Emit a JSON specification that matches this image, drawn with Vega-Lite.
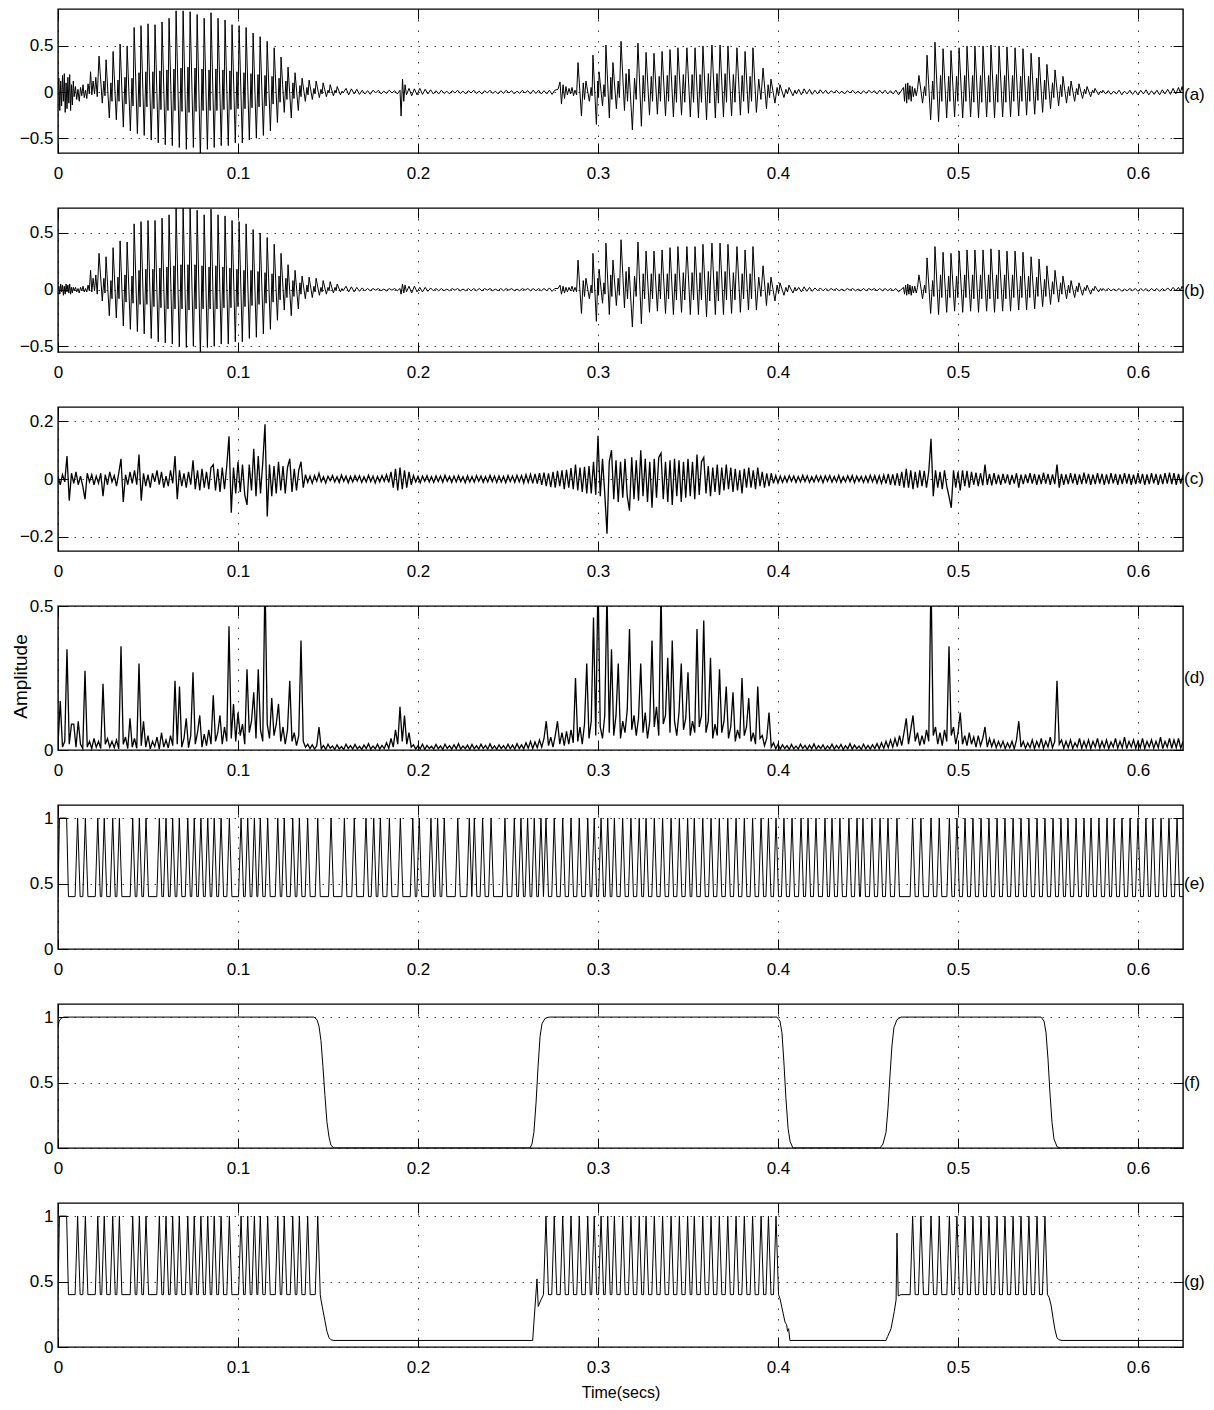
{
  "$schema": "https://vega.github.io/schema/vega-lite/v6.json",
  "padding": {"left": 10, "top": 7, "right": 0, "bottom": 0},
  "bounds": "flush",
  "spacing": 55,
  "config": {
    "view": {"stroke": "#000", "strokeWidth": 1.4},
    "axis": {
      "domain": false, "grid": true, "gridColor": "#000", "gridOpacity": 0.75, "gridWidth": 1,
      "ticks": true, "tickColor": "#000", "tickSize": -10, "tickWidth": 1,
      "labelFont": "Liberation Sans", "labelFontSize": 17, "labelColor": "#000",
      "titleFont": "Liberation Sans", "titleFontSize": 16, "titleFontWeight": "normal", "titleColor": "#000"
    },
    "axisX": {"gridDash": [1.5, 9], "labelPadding": 22, "labelFlush": false},
    "axisY": {"gridDash": [1.5, 6.5], "labelPadding": 15},
    "line": {"color": "#000", "strokeWidth": 1},
    "text": {"font": "Liberation Sans", "fontSize": 17, "color": "#000"}
  },
  "datasets": {
    "ab": [
      {"t":0,"a":0.02,"b":0},{"t":0.0005,"a":0.15,"b":0.03},{"t":0.001,"a":-0.2,"b":-0.04},{"t":0.0015,"a":0.12,"b":0.05},
      {"t":0.002,"a":-0.15,"b":-0.02},{"t":0.0025,"a":0.18,"b":0.04},{"t":0.003,"a":-0.1,"b":-0.05},{"t":0.0035,"a":0.2,"b":0.03},
      {"t":0.004,"a":-0.22,"b":-0.04},{"t":0.0045,"a":0.1,"b":0.05},{"t":0.005,"a":-0.18,"b":-0.02},{"t":0.0055,"a":0.16,"b":0.04},
      {"t":0.006,"a":-0.12,"b":-0.03},{"t":0.0065,"a":0.19,"b":0.05},{"t":0.007,"a":-0.2,"b":-0.04},{"t":0.0075,"a":0.08,"b":0.02},
      {"t":0.008,"a":-0.14,"b":-0.03},{"t":0.0085,"a":0.12,"b":0.02},{"t":0.009,"a":-0.05,"b":-0.01},
      {"t":0.0097,"a":0.06,"b":0.02},{"t":0.0104,"a":-0.08,"b":-0.02},{"t":0.0111,"a":0.03,"b":0.01},{"t":0.0118,"a":-0.1,"b":-0.03},
      {"t":0.0125,"a":0.05,"b":0.02},{"t":0.0132,"a":-0.04,"b":-0.01},{"t":0.0139,"a":0.08,"b":0.03},{"t":0.0146,"a":-0.06,"b":-0.02},
      {"t":0.0153,"a":0.02,"b":0.01},{"t":0.016,"a":-0.07,"b":-0.02},{"t":0.0167,"a":0.09,"b":0.04},{"t":0.0174,"a":-0.02,"b":-0.01},
      {"t":0.0181,"a":0.22,"b":0.17},{"t":0.0188,"a":-0.03,"b":-0.02},{"t":0.0195,"a":0.12,"b":0.1},{"t":0.0203,"a":-0.02,"b":-0.01},
      {"t":0.021,"a":0.16,"b":0.13},{"t":0.0218,"a":-0.05,"b":-0.04},
      {"t":0.0228,"a":0.39,"b":0.32},{"t":0.0246,"a":-0.12,"b":-0.1},{"t":0.0255,"a":0.12,"b":0.1},{"t":0.0261,"a":-0.04,"b":-0.03},
      {"t":0.0267,"a":0.35,"b":0.29},{"t":0.0285,"a":-0.28,"b":-0.23},{"t":0.0294,"a":0.1,"b":0.08},{"t":0.03,"a":-0.1,"b":-0.08},
      {"t":0.0306,"a":0.44,"b":0.37},{"t":0.0324,"a":-0.3,"b":-0.25},{"t":0.0333,"a":0.13,"b":0.11},{"t":0.0339,"a":-0.1,"b":-0.08},
      {"t":0.0345,"a":0.52,"b":0.43},{"t":0.0363,"a":-0.38,"b":-0.32},{"t":0.0372,"a":0.16,"b":0.13},{"t":0.0378,"a":-0.13,"b":-0.11},
      {"t":0.0384,"a":0.5,"b":0.42},{"t":0.0402,"a":-0.42,"b":-0.35},{"t":0.0411,"a":0.15,"b":0.12},{"t":0.0417,"a":-0.15,"b":-0.12},
      {"t":0.0423,"a":0.7,"b":0.58},{"t":0.0441,"a":-0.45,"b":-0.37},{"t":0.045,"a":0.21,"b":0.17},{"t":0.0456,"a":-0.16,"b":-0.13},
      {"t":0.0461,"a":0.72,"b":0.6},{"t":0.0479,"a":-0.47,"b":-0.39},{"t":0.0488,"a":0.22,"b":0.18},{"t":0.0494,"a":-0.16,"b":-0.13},
      {"t":0.05,"a":0.74,"b":0.61},{"t":0.0518,"a":-0.52,"b":-0.43},{"t":0.0527,"a":0.22,"b":0.18},{"t":0.0533,"a":-0.18,"b":-0.15},
      {"t":0.0539,"a":0.73,"b":0.61},{"t":0.0557,"a":-0.55,"b":-0.46},{"t":0.0566,"a":0.23,"b":0.19},{"t":0.0572,"a":-0.19,"b":-0.16},
      {"t":0.0578,"a":0.76,"b":0.63},{"t":0.0596,"a":-0.57,"b":-0.47},{"t":0.0605,"a":0.24,"b":0.2},{"t":0.0611,"a":-0.2,"b":-0.17},
      {"t":0.0617,"a":0.8,"b":0.66},{"t":0.0635,"a":-0.58,"b":-0.48},{"t":0.0644,"a":0.25,"b":0.21},{"t":0.065,"a":-0.2,"b":-0.17},
      {"t":0.0656,"a":0.88,"b":0.73},{"t":0.0674,"a":-0.6,"b":-0.5},{"t":0.0683,"a":0.26,"b":0.22},{"t":0.0689,"a":-0.21,"b":-0.17},
      {"t":0.0695,"a":0.88,"b":0.73},{"t":0.0713,"a":-0.62,"b":-0.51},{"t":0.0722,"a":0.27,"b":0.22},{"t":0.0728,"a":-0.22,"b":-0.18},
      {"t":0.0734,"a":0.87,"b":0.72},{"t":0.0752,"a":-0.6,"b":-0.5},{"t":0.0761,"a":0.26,"b":0.22},{"t":0.0767,"a":-0.21,"b":-0.17},
      {"t":0.0773,"a":0.84,"b":0.7},{"t":0.0791,"a":-0.72,"b":-0.58},{"t":0.08,"a":0.25,"b":0.21},{"t":0.0806,"a":-0.2,"b":-0.17},
      {"t":0.0812,"a":0.8,"b":0.66},{"t":0.083,"a":-0.62,"b":-0.51},{"t":0.0839,"a":0.24,"b":0.2},{"t":0.0845,"a":-0.2,"b":-0.17},
      {"t":0.085,"a":0.86,"b":0.71},{"t":0.0868,"a":-0.6,"b":-0.5},{"t":0.0877,"a":0.25,"b":0.21},{"t":0.0883,"a":-0.2,"b":-0.17},
      {"t":0.0889,"a":0.8,"b":0.66},{"t":0.0907,"a":-0.58,"b":-0.48},{"t":0.0916,"a":0.24,"b":0.2},{"t":0.0922,"a":-0.19,"b":-0.16},
      {"t":0.0928,"a":0.78,"b":0.65},{"t":0.0946,"a":-0.58,"b":-0.48},{"t":0.0955,"a":0.23,"b":0.19},{"t":0.0961,"a":-0.19,"b":-0.16},
      {"t":0.0967,"a":0.73,"b":0.61},{"t":0.0985,"a":-0.55,"b":-0.46},{"t":0.0994,"a":0.22,"b":0.18},{"t":0.1,"a":-0.18,"b":-0.15},
      {"t":0.1006,"a":0.72,"b":0.6},{"t":0.1024,"a":-0.55,"b":-0.46},{"t":0.1033,"a":0.21,"b":0.17},{"t":0.1039,"a":-0.18,"b":-0.15},
      {"t":0.1045,"a":0.7,"b":0.58},{"t":0.1063,"a":-0.52,"b":-0.43},{"t":0.1072,"a":0.2,"b":0.17},{"t":0.1078,"a":-0.17,"b":-0.14},
      {"t":0.1084,"a":0.64,"b":0.53},{"t":0.1102,"a":-0.5,"b":-0.42},{"t":0.1111,"a":0.19,"b":0.16},{"t":0.1117,"a":-0.16,"b":-0.13},
      {"t":0.1123,"a":0.6,"b":0.5},{"t":0.1141,"a":-0.47,"b":-0.39},{"t":0.115,"a":0.18,"b":0.15},{"t":0.1156,"a":-0.15,"b":-0.12},
      {"t":0.1162,"a":0.55,"b":0.46},{"t":0.118,"a":-0.42,"b":-0.35},{"t":0.1189,"a":0.17,"b":0.14},{"t":0.1195,"a":-0.13,"b":-0.11},
      {"t":0.1201,"a":0.48,"b":0.4},{"t":0.1219,"a":-0.33,"b":-0.27},{"t":0.1228,"a":0.15,"b":0.12},{"t":0.1234,"a":-0.11,"b":-0.09},
      {"t":0.1239,"a":0.38,"b":0.32},{"t":0.1257,"a":-0.22,"b":-0.18},{"t":0.1266,"a":0.12,"b":0.1},{"t":0.1272,"a":-0.08,"b":-0.07},
      {"t":0.1278,"a":0.27,"b":0.22},{"t":0.1296,"a":-0.28,"b":-0.23},{"t":0.1305,"a":0.1,"b":0.08},{"t":0.1311,"a":-0.07,"b":-0.06},
      {"t":0.1317,"a":0.21,"b":0.17},{"t":0.1335,"a":-0.2,"b":-0.17},{"t":0.1344,"a":0.07,"b":0.06},{"t":0.135,"a":-0.05,"b":-0.04},
      {"t":0.1356,"a":0.15,"b":0.12},{"t":0.1374,"a":-0.1,"b":-0.08},{"t":0.1383,"a":0.05,"b":0.04},{"t":0.1389,"a":-0.03,"b":-0.02},
      {"t":0.1395,"a":0.13,"b":0.11},{"t":0.1413,"a":-0.08,"b":-0.07},{"t":0.1422,"a":0.04,"b":0.03},{"t":0.1428,"a":-0.02,"b":-0.02},
      {"t":0.1434,"a":0.12,"b":0.1},{"t":0.1452,"a":-0.06,"b":-0.05},{"t":0.1461,"a":0.03,"b":0.02},{"t":0.1467,"a":-0.02,"b":-0.02},
      {"t":0.1473,"a":0.1,"b":0.08},{"t":0.1491,"a":-0.05,"b":-0.04},{"t":0.15,"a":0.02,"b":0.02},{"t":0.1506,"a":-0.01,"b":-0.01},
      {"t":0.1512,"a":0.08,"b":0.07},{"t":0.153,"a":-0.04,"b":-0.03},{"t":0.1539,"a":0.02,"b":0.02},{"t":0.1545,"a":-0.01,"b":-0.01},
      {"t":0.1551,"a":0.06,"b":0.05},{"t":0.1569,"a":-0.03,"b":-0.02},{"t":0.1578,"a":0.01,"b":0.01},{"t":0.1584,"a":-0.01,"b":-0.01},
      {"t":0.16,"a":0.04,"b":0.03},{"t":0.1615,"a":-0.03,"b":-0.02},{"t":0.163,"a":0.035,"b":0.025},{"t":0.1645,"a":-0.02,"b":-0.02},
      {"t":0.166,"a":0.03,"b":0.02},{"t":0.1675,"a":-0.025,"b":-0.015},{"t":0.169,"a":0.02,"b":0.015},{"t":0.1705,"a":-0.02,"b":-0.01},
      {"t":0.172,"a":0.015,"b":0.01},{"t":0.1735,"a":-0.025,"b":-0.01},{"t":0.175,"a":0.02,"b":0.01},{"t":0.1765,"a":-0.01,"b":-0.005},
      {"t":0.178,"a":0.02,"b":0.01},{"t":0.1795,"a":-0.02,"b":-0.01},{"t":0.181,"a":0.01,"b":0.005},{"t":0.1825,"a":-0.015,"b":-0.01},
      {"t":0.184,"a":0.02,"b":0.01},{"t":0.1855,"a":-0.01,"b":-0.005},{"t":0.187,"a":0.015,"b":0.01},{"t":0.1885,"a":-0.02,"b":-0.01},
      {"t":0.19,"a":0.02,"b":0.01},{"t":0.1906,"a":-0.26,"b":-0.04},{"t":0.1914,"a":0.14,"b":0.05},{"t":0.1921,"a":-0.1,"b":-0.03},
      {"t":0.1928,"a":0.08,"b":0.04},{"t":0.1936,"a":-0.03,"b":-0.02},{"t":0.195,"a":0.04,"b":0.03},{"t":0.1965,"a":-0.04,"b":-0.03},
      {"t":0.198,"a":0.035,"b":0.03},{"t":0.1995,"a":-0.03,"b":-0.02},{"t":0.201,"a":0.04,"b":0.02},{"t":0.2025,"a":-0.025,"b":-0.02},
      {"t":0.204,"a":0.03,"b":0.02},{"t":0.2055,"a":-0.02,"b":-0.015},{"t":0.207,"a":0.025,"b":0.015},{"t":0.2085,"a":-0.02,"b":-0.01},
      {"t":0.21,"a":0.015,"b":0.01},{"t":0.2115,"a":-0.02,"b":-0.01},{"t":0.213,"a":0.02,"b":0.01},{"t":0.2145,"a":-0.015,"b":-0.01},
      {"t":0.216,"a":0.01,"b":0.005},{"t":0.2175,"a":-0.02,"b":-0.01},{"t":0.219,"a":0.015,"b":0.01},{"t":0.2205,"a":-0.01,"b":-0.005},
      {"t":0.222,"a":0.02,"b":0.01},{"t":0.2235,"a":-0.015,"b":-0.01},{"t":0.225,"a":0.01,"b":0.005},{"t":0.2265,"a":-0.02,"b":-0.01},
      {"t":0.228,"a":0.015,"b":0.01},{"t":0.2295,"a":-0.01,"b":-0.01},{"t":0.231,"a":0.02,"b":0.01},{"t":0.2325,"a":-0.015,"b":-0.01},
      {"t":0.234,"a":0.01,"b":0.01},{"t":0.2355,"a":-0.02,"b":-0.01},{"t":0.237,"a":0.015,"b":0.01},{"t":0.2385,"a":-0.01,"b":-0.005},
      {"t":0.24,"a":0.02,"b":0.01},{"t":0.2415,"a":-0.015,"b":-0.01},{"t":0.243,"a":0.01,"b":0.005},{"t":0.2445,"a":-0.02,"b":-0.01},
      {"t":0.246,"a":0.015,"b":0.01},{"t":0.2475,"a":-0.015,"b":-0.01},{"t":0.249,"a":0.02,"b":0.01},{"t":0.2505,"a":-0.01,"b":-0.005},
      {"t":0.252,"a":0.015,"b":0.01},{"t":0.2535,"a":-0.02,"b":-0.01},{"t":0.255,"a":0.01,"b":0.005},{"t":0.2565,"a":-0.015,"b":-0.01},
      {"t":0.258,"a":0.02,"b":0.01},{"t":0.2595,"a":-0.01,"b":-0.005},{"t":0.261,"a":0.015,"b":0.01},{"t":0.2625,"a":-0.02,"b":-0.01},
      {"t":0.264,"a":0.02,"b":0.01},{"t":0.2655,"a":-0.015,"b":-0.01},{"t":0.267,"a":0.02,"b":0.01},{"t":0.2685,"a":-0.02,"b":-0.01},
      {"t":0.27,"a":0.015,"b":0.01},{"t":0.2715,"a":-0.02,"b":-0.01},{"t":0.273,"a":0.02,"b":0.015},{"t":0.2745,"a":-0.025,"b":-0.015},
      {"t":0.276,"a":0.02,"b":0.01},
      {"t":0.2778,"a":0.03,"b":0.01},{"t":0.2789,"a":0.11,"b":0.04},{"t":0.2797,"a":-0.13,"b":-0.04},{"t":0.2806,"a":0.08,"b":0.03},
      {"t":0.2814,"a":-0.07,"b":-0.03},{"t":0.2822,"a":0.06,"b":0.02},{"t":0.283,"a":-0.03,"b":-0.02},{"t":0.2839,"a":0.04,"b":0.02},
      {"t":0.2847,"a":-0.02,"b":-0.01},{"t":0.2856,"a":0.05,"b":0.03},{"t":0.2864,"a":-0.04,"b":-0.02},{"t":0.2872,"a":0.02,"b":0.02},
      {"t":0.2881,"a":-0.03,"b":-0.02},
      {"t":0.2889,"a":0.32,"b":0.26},{"t":0.2908,"a":-0.26,"b":-0.21},{"t":0.2918,"a":0.1,"b":0.08},{"t":0.2925,"a":-0.08,"b":-0.06},
      {"t":0.2933,"a":0.12,"b":0.1},{"t":0.2952,"a":-0.1,"b":-0.08},{"t":0.2962,"a":0.05,"b":0.04},{"t":0.2967,"a":-0.04,"b":-0.03},
      {"t":0.2972,"a":0.4,"b":0.32},{"t":0.2991,"a":-0.35,"b":-0.28},{"t":0.2999,"a":0.12,"b":0.1},{"t":0.3003,"a":-0.06,"b":-0.05},
      {"t":0.3006,"a":0.22,"b":0.18},{"t":0.3025,"a":-0.15,"b":-0.12},{"t":0.3033,"a":0.08,"b":0.06},{"t":0.3039,"a":-0.05,"b":-0.04},
      {"t":0.3044,"a":0.51,"b":0.41},{"t":0.3063,"a":-0.28,"b":-0.22},{"t":0.3071,"a":0.16,"b":0.13},{"t":0.3077,"a":-0.08,"b":-0.06},
      {"t":0.3083,"a":0.32,"b":0.26},{"t":0.3102,"a":-0.18,"b":-0.14},{"t":0.3112,"a":0.12,"b":0.1},{"t":0.3119,"a":-0.06,"b":-0.05},
      {"t":0.3128,"a":0.55,"b":0.44},{"t":0.3147,"a":-0.2,"b":-0.16},{"t":0.3156,"a":0.2,"b":0.16},{"t":0.3164,"a":-0.1,"b":-0.08},
      {"t":0.3172,"a":0.25,"b":0.2},{"t":0.3191,"a":-0.41,"b":-0.33},{"t":0.3203,"a":0.15,"b":0.12},{"t":0.3212,"a":-0.08,"b":-0.06},
      {"t":0.3222,"a":0.53,"b":0.42},{"t":0.3241,"a":-0.37,"b":-0.3},{"t":0.3251,"a":0.18,"b":0.14},{"t":0.3259,"a":-0.1,"b":-0.08},
      {"t":0.3267,"a":0.43,"b":0.34},{"t":0.3286,"a":-0.25,"b":-0.2},{"t":0.3296,"a":0.17,"b":0.14},{"t":0.3303,"a":-0.1,"b":-0.08},
      {"t":0.3311,"a":0.42,"b":0.34},{"t":0.333,"a":-0.24,"b":-0.19},{"t":0.334,"a":0.17,"b":0.14},{"t":0.3347,"a":-0.1,"b":-0.08},
      {"t":0.3356,"a":0.44,"b":0.35},{"t":0.3375,"a":-0.26,"b":-0.21},{"t":0.3385,"a":0.18,"b":0.14},{"t":0.3392,"a":-0.1,"b":-0.08},
      {"t":0.34,"a":0.46,"b":0.37},{"t":0.3419,"a":-0.27,"b":-0.22},{"t":0.3429,"a":0.18,"b":0.14},{"t":0.3436,"a":-0.11,"b":-0.09},
      {"t":0.3444,"a":0.48,"b":0.38},{"t":0.3464,"a":-0.25,"b":-0.2},{"t":0.3474,"a":0.19,"b":0.15},{"t":0.3482,"a":-0.11,"b":-0.09},
      {"t":0.3494,"a":0.48,"b":0.38},{"t":0.3513,"a":-0.27,"b":-0.22},{"t":0.3523,"a":0.19,"b":0.15},{"t":0.3531,"a":-0.11,"b":-0.09},
      {"t":0.3539,"a":0.48,"b":0.38},{"t":0.3558,"a":-0.28,"b":-0.22},{"t":0.3567,"a":0.19,"b":0.15},{"t":0.3575,"a":-0.11,"b":-0.09},
      {"t":0.3583,"a":0.5,"b":0.4},{"t":0.3603,"a":-0.3,"b":-0.24},{"t":0.3613,"a":0.2,"b":0.16},{"t":0.3621,"a":-0.12,"b":-0.1},
      {"t":0.3633,"a":0.51,"b":0.41},{"t":0.3652,"a":-0.28,"b":-0.22},{"t":0.3661,"a":0.2,"b":0.16},{"t":0.3669,"a":-0.12,"b":-0.1},
      {"t":0.3678,"a":0.51,"b":0.41},{"t":0.3697,"a":-0.27,"b":-0.22},{"t":0.3706,"a":0.2,"b":0.16},{"t":0.3714,"a":-0.11,"b":-0.09},
      {"t":0.3722,"a":0.5,"b":0.4},{"t":0.3742,"a":-0.26,"b":-0.21},{"t":0.3752,"a":0.19,"b":0.15},{"t":0.3761,"a":-0.11,"b":-0.09},
      {"t":0.3772,"a":0.48,"b":0.38},{"t":0.3791,"a":-0.25,"b":-0.2},{"t":0.3801,"a":0.18,"b":0.14},{"t":0.3809,"a":-0.1,"b":-0.08},
      {"t":0.3817,"a":0.44,"b":0.35},{"t":0.3836,"a":-0.23,"b":-0.18},{"t":0.3845,"a":0.17,"b":0.14},{"t":0.3853,"a":-0.1,"b":-0.08},
      {"t":0.3861,"a":0.48,"b":0.38},{"t":0.388,"a":-0.22,"b":-0.18},{"t":0.3893,"a":0.14,"b":0.11},{"t":0.3905,"a":-0.08,"b":-0.06},
      {"t":0.3917,"a":0.26,"b":0.21},{"t":0.3936,"a":-0.18,"b":-0.14},{"t":0.3945,"a":0.08,"b":0.06},{"t":0.3953,"a":-0.06,"b":-0.05},
      {"t":0.3961,"a":0.14,"b":0.11},{"t":0.3983,"a":-0.12,"b":-0.1},{"t":0.3995,"a":0.05,"b":0.04},{"t":0.4003,"a":-0.04,"b":-0.03},
      {"t":0.4011,"a":0.08,"b":0.06},{"t":0.4033,"a":-0.06,"b":-0.05},{"t":0.4044,"a":0.03,"b":0.02},{"t":0.4053,"a":-0.02,"b":-0.02},
      {"t":0.4061,"a":0.05,"b":0.04},{"t":0.4083,"a":-0.04,"b":-0.03},{"t":0.4094,"a":0.02,"b":0.02},{"t":0.4103,"a":-0.02,"b":-0.01},
      {"t":0.4115,"a":0.03,"b":0.02},{"t":0.413,"a":-0.03,"b":-0.02},{"t":0.4145,"a":0.035,"b":0.025},{"t":0.416,"a":-0.02,"b":-0.015},
      {"t":0.4175,"a":0.03,"b":0.02},{"t":0.419,"a":-0.025,"b":-0.015},{"t":0.4205,"a":0.02,"b":0.015},{"t":0.422,"a":-0.02,"b":-0.01},
      {"t":0.4235,"a":0.025,"b":0.015},{"t":0.425,"a":-0.015,"b":-0.01},{"t":0.4265,"a":0.02,"b":0.01},{"t":0.428,"a":-0.02,"b":-0.01},
      {"t":0.4295,"a":0.015,"b":0.01},{"t":0.431,"a":-0.01,"b":-0.005},{"t":0.4325,"a":0.02,"b":0.01},{"t":0.434,"a":-0.015,"b":-0.01},
      {"t":0.4355,"a":0.01,"b":0.005},{"t":0.437,"a":-0.02,"b":-0.01},{"t":0.4385,"a":0.015,"b":0.01},{"t":0.44,"a":-0.01,"b":-0.005},
      {"t":0.4415,"a":0.02,"b":0.01},{"t":0.443,"a":-0.015,"b":-0.01},{"t":0.4445,"a":0.01,"b":0.005},{"t":0.446,"a":-0.02,"b":-0.01},
      {"t":0.4475,"a":0.015,"b":0.01},{"t":0.449,"a":-0.015,"b":-0.01},{"t":0.4505,"a":0.02,"b":0.01},{"t":0.452,"a":-0.01,"b":-0.005},
      {"t":0.4535,"a":0.015,"b":0.01},{"t":0.455,"a":-0.02,"b":-0.01},{"t":0.4565,"a":0.02,"b":0.01},{"t":0.458,"a":-0.015,"b":-0.01},
      {"t":0.4595,"a":0.02,"b":0.01},{"t":0.461,"a":-0.02,"b":-0.01},{"t":0.4625,"a":0.015,"b":0.01},{"t":0.464,"a":-0.02,"b":-0.01},
      {"t":0.4655,"a":0.02,"b":0.01},{"t":0.467,"a":-0.03,"b":-0.02},
      {"t":0.4697,"a":0.05,"b":0.02},{"t":0.4703,"a":-0.1,"b":-0.04},{"t":0.4709,"a":0.09,"b":0.04},{"t":0.4715,"a":-0.12,"b":-0.05},
      {"t":0.4721,"a":0.1,"b":0.05},{"t":0.4727,"a":-0.08,"b":-0.04},{"t":0.4733,"a":0.07,"b":0.04},{"t":0.474,"a":-0.1,"b":-0.05},
      {"t":0.4746,"a":0.06,"b":0.03},{"t":0.4752,"a":-0.05,"b":-0.03},{"t":0.476,"a":0.04,"b":0.03},{"t":0.4768,"a":-0.04,"b":-0.03},
      {"t":0.4775,"a":0.03,"b":0.02},
      {"t":0.4783,"a":0.18,"b":0.13},{"t":0.4803,"a":-0.12,"b":-0.08},{"t":0.4814,"a":0.06,"b":0.04},{"t":0.4821,"a":-0.04,"b":-0.03},
      {"t":0.4828,"a":0.4,"b":0.28},{"t":0.4848,"a":-0.3,"b":-0.21},{"t":0.4859,"a":0.12,"b":0.08},{"t":0.4866,"a":-0.08,"b":-0.06},
      {"t":0.4872,"a":0.54,"b":0.38},{"t":0.4892,"a":-0.32,"b":-0.22},{"t":0.4903,"a":0.18,"b":0.13},{"t":0.491,"a":-0.1,"b":-0.07},
      {"t":0.4917,"a":0.47,"b":0.33},{"t":0.4937,"a":-0.28,"b":-0.2},{"t":0.4948,"a":0.17,"b":0.12},{"t":0.4955,"a":-0.1,"b":-0.07},
      {"t":0.4961,"a":0.45,"b":0.32},{"t":0.4981,"a":-0.27,"b":-0.19},{"t":0.4992,"a":0.17,"b":0.12},{"t":0.4999,"a":-0.1,"b":-0.07},
      {"t":0.5006,"a":0.48,"b":0.34},{"t":0.5026,"a":-0.28,"b":-0.2},{"t":0.5037,"a":0.18,"b":0.13},{"t":0.5044,"a":-0.1,"b":-0.07},
      {"t":0.505,"a":0.5,"b":0.35},{"t":0.507,"a":-0.27,"b":-0.19},{"t":0.5081,"a":0.18,"b":0.13},{"t":0.5088,"a":-0.11,"b":-0.08},
      {"t":0.5094,"a":0.5,"b":0.35},{"t":0.5114,"a":-0.28,"b":-0.2},{"t":0.5125,"a":0.18,"b":0.13},{"t":0.5132,"a":-0.11,"b":-0.08},
      {"t":0.5139,"a":0.5,"b":0.35},{"t":0.5159,"a":-0.27,"b":-0.19},{"t":0.517,"a":0.18,"b":0.13},{"t":0.5177,"a":-0.11,"b":-0.08},
      {"t":0.5183,"a":0.51,"b":0.36},{"t":0.5203,"a":-0.28,"b":-0.2},{"t":0.5214,"a":0.19,"b":0.13},{"t":0.5221,"a":-0.11,"b":-0.08},
      {"t":0.5228,"a":0.5,"b":0.35},{"t":0.5248,"a":-0.27,"b":-0.19},{"t":0.5259,"a":0.18,"b":0.13},{"t":0.5266,"a":-0.11,"b":-0.08},
      {"t":0.5272,"a":0.49,"b":0.34},{"t":0.5292,"a":-0.27,"b":-0.19},{"t":0.5303,"a":0.18,"b":0.13},{"t":0.531,"a":-0.1,"b":-0.07},
      {"t":0.5317,"a":0.48,"b":0.34},{"t":0.5337,"a":-0.26,"b":-0.18},{"t":0.5348,"a":0.17,"b":0.12},{"t":0.5355,"a":-0.1,"b":-0.07},
      {"t":0.5361,"a":0.47,"b":0.33},{"t":0.5381,"a":-0.25,"b":-0.18},{"t":0.5392,"a":0.17,"b":0.12},{"t":0.5399,"a":-0.1,"b":-0.07},
      {"t":0.5406,"a":0.42,"b":0.29},{"t":0.5426,"a":-0.24,"b":-0.17},{"t":0.5437,"a":0.15,"b":0.11},{"t":0.5444,"a":-0.09,"b":-0.06},
      {"t":0.545,"a":0.38,"b":0.27},{"t":0.547,"a":-0.22,"b":-0.15},{"t":0.5481,"a":0.13,"b":0.09},{"t":0.5488,"a":-0.08,"b":-0.06},
      {"t":0.5494,"a":0.3,"b":0.21},{"t":0.5514,"a":-0.18,"b":-0.13},{"t":0.5525,"a":0.1,"b":0.07},{"t":0.5532,"a":-0.06,"b":-0.04},
      {"t":0.5539,"a":0.24,"b":0.17},{"t":0.5559,"a":-0.15,"b":-0.11},{"t":0.557,"a":0.08,"b":0.06},{"t":0.5577,"a":-0.05,"b":-0.04},
      {"t":0.5583,"a":0.17,"b":0.12},{"t":0.5603,"a":-0.12,"b":-0.08},{"t":0.5614,"a":0.06,"b":0.04},{"t":0.5621,"a":-0.04,"b":-0.03},
      {"t":0.5628,"a":0.12,"b":0.08},{"t":0.5648,"a":-0.1,"b":-0.07},{"t":0.5659,"a":0.04,"b":0.03},{"t":0.5666,"a":-0.03,"b":-0.02},
      {"t":0.5672,"a":0.09,"b":0.06},{"t":0.5692,"a":-0.07,"b":-0.05},{"t":0.5703,"a":0.03,"b":0.02},{"t":0.571,"a":-0.02,"b":-0.01},
      {"t":0.5717,"a":0.06,"b":0.04},{"t":0.5737,"a":-0.05,"b":-0.04},{"t":0.5748,"a":0.02,"b":0.01},{"t":0.5755,"a":-0.01,"b":-0.01},
      {"t":0.5761,"a":0.04,"b":0.03},{"t":0.5781,"a":-0.03,"b":-0.02},{"t":0.5792,"a":0.01,"b":0.01},{"t":0.5799,"a":-0.01,"b":-0.01},
      {"t":0.5805,"a":0.02,"b":0.01},{"t":0.582,"a":-0.02,"b":-0.01},{"t":0.5835,"a":0.015,"b":0.01},{"t":0.585,"a":-0.025,"b":-0.01},
      {"t":0.5865,"a":0.01,"b":0.005},{"t":0.588,"a":-0.02,"b":-0.01},{"t":0.5895,"a":0.02,"b":0.01},{"t":0.591,"a":-0.03,"b":-0.015},
      {"t":0.5925,"a":0.01,"b":0.005},{"t":0.594,"a":-0.02,"b":-0.01},{"t":0.5955,"a":0.02,"b":0.01},{"t":0.597,"a":-0.025,"b":-0.01},
      {"t":0.5985,"a":0.015,"b":0.01},{"t":0.6,"a":-0.03,"b":-0.015},{"t":0.6015,"a":0.02,"b":0.01},{"t":0.603,"a":-0.02,"b":-0.01},
      {"t":0.6045,"a":0.025,"b":0.01},{"t":0.606,"a":-0.03,"b":-0.015},{"t":0.6075,"a":0.015,"b":0.01},{"t":0.609,"a":-0.025,"b":-0.01},
      {"t":0.6105,"a":0.02,"b":0.01},{"t":0.612,"a":-0.03,"b":-0.015},{"t":0.6135,"a":0.025,"b":0.01},{"t":0.615,"a":-0.02,"b":-0.01},
      {"t":0.6165,"a":0.03,"b":0.015},{"t":0.618,"a":-0.025,"b":-0.01},{"t":0.6195,"a":0.04,"b":0.02},{"t":0.621,"a":-0.02,"b":-0.01},
      {"t":0.6225,"a":0.05,"b":0.02},{"t":0.6235,"a":-0.01,"b":-0.01},{"t":0.6245,"a":0.06,"b":0.03},{"t":0.625,"a":0.02,"b":0.01}
    ],
    "cd": [
      {"t":0,"c":0.01,"d":0.02},{"t":0.00125,"c":-0.02,"d":0.17},{"t":0.0025,"c":0.015,"d":0.01},{"t":0.00375,"c":-0.01,"d":0.03},
      {"t":0.005,"c":0.08,"d":0.35},{"t":0.00625,"c":-0.075,"d":0.02},{"t":0.0075,"c":0.02,"d":0.09},{"t":0.00875,"c":-0.015,"d":0.09},
      {"t":0.01,"c":0.025,"d":0.01},{"t":0.01125,"c":-0.02,"d":0.1},{"t":0.0125,"c":0.01,"d":0.02},{"t":0.01375,"c":-0.025,"d":0.005},
      {"t":0.015,"c":-0.07,"d":0.275},{"t":0.01625,"c":0.02,"d":0.01},{"t":0.0175,"c":-0.01,"d":0.03},{"t":0.01875,"c":0.015,"d":0.005},
      {"t":0.02,"c":-0.02,"d":0.04},{"t":0.02125,"c":0.01,"d":0.01},{"t":0.0225,"c":-0.015,"d":0.03},{"t":0.02375,"c":0.02,"d":0.005},
      {"t":0.025,"c":-0.06,"d":0.23},{"t":0.02625,"c":0.015,"d":0.02},{"t":0.0275,"c":-0.02,"d":0.04},{"t":0.02875,"c":0.025,"d":0.01},
      {"t":0.03,"c":-0.01,"d":0.03},
      {"t":0.03125,"c":0.012,"d":0.008},{"t":0.0325,"c":-0.025,"d":0.035},{"t":0.03375,"c":0.02,"d":0.004},{"t":0.035,"c":0.07,"d":0.36},
      {"t":0.03625,"c":-0.08,"d":0.02},{"t":0.0375,"c":0.015,"d":0.045},{"t":0.03875,"c":-0.02,"d":0.005},{"t":0.04,"c":0.025,"d":0.11},
      {"t":0.04125,"c":-0.015,"d":0.01},{"t":0.0425,"c":0.03,"d":0.04},{"t":0.04375,"c":-0.02,"d":0.006},{"t":0.045,"c":0.085,"d":0.3},
      {"t":0.04625,"c":-0.075,"d":0.015},{"t":0.0475,"c":0.02,"d":0.1},{"t":0.04875,"c":-0.025,"d":0.01},{"t":0.05,"c":0.015,"d":0.05},
      {"t":0.05125,"c":-0.03,"d":0.004},{"t":0.0525,"c":0.02,"d":0.03},{"t":0.05375,"c":-0.01,"d":0.012},{"t":0.055,"c":0.03,"d":0.045},
      {"t":0.05625,"c":-0.02,"d":0.003},{"t":0.0575,"c":0.025,"d":0.06},{"t":0.05875,"c":-0.03,"d":0.01},{"t":0.06,"c":0.01,"d":0.035},
      {"t":0.06125,"c":-0.025,"d":0.007},{"t":0.0625,"c":0.03,"d":0.05},{"t":0.06375,"c":-0.015,"d":0.015},{"t":0.065,"c":0.08,"d":0.24},
      {"t":0.06625,"c":-0.07,"d":0.02},{"t":0.0675,"c":0.03,"d":0.22},{"t":0.06875,"c":-0.025,"d":0.01},{"t":0.07,"c":0.02,"d":0.04},
      {"t":0.07125,"c":-0.03,"d":0.11},{"t":0.0725,"c":0.025,"d":0.008},{"t":0.07375,"c":-0.02,"d":0.05},{"t":0.075,"c":0.065,"d":0.27},
      {"t":0.07625,"c":-0.035,"d":0.02},{"t":0.0775,"c":0.03,"d":0.06},{"t":0.07875,"c":-0.04,"d":0.12},{"t":0.08,"c":0.035,"d":0.01},
      {"t":0.08125,"c":-0.03,"d":0.055},{"t":0.0825,"c":0.025,"d":0.015},{"t":0.08375,"c":-0.035,"d":0.07},{"t":0.085,"c":0.04,"d":0.02},
      {"t":0.08625,"c":0.05,"d":0.19},{"t":0.0875,"c":-0.04,"d":0.03},{"t":0.08875,"c":0.035,"d":0.06},{"t":0.09,"c":-0.045,"d":0.12},
      {"t":0.09125,"c":0.04,"d":0.02},{"t":0.0925,"c":-0.035,"d":0.08},{"t":0.09375,"c":0.045,"d":0.03},{"t":0.095,"c":0.148,"d":0.43},
      {"t":0.09625,"c":-0.117,"d":0.04},
      {"t":0.0975,"c":0.04,"d":0.16},{"t":0.09875,"c":-0.05,"d":0.03},{"t":0.1,"c":0.06,"d":0.13},{"t":0.10125,"c":-0.045,"d":0.05},
      {"t":0.1025,"c":0.05,"d":0.09},{"t":0.10375,"c":-0.055,"d":0.02},{"t":0.105,"c":-0.09,"d":0.28},{"t":0.10625,"c":0.05,"d":0.06},
      {"t":0.1075,"c":-0.04,"d":0.1},{"t":0.10875,"c":0.105,"d":0.2},{"t":0.11,"c":-0.06,"d":0.04},{"t":0.11125,"c":0.08,"d":0.28},
      {"t":0.1125,"c":-0.05,"d":0.07},{"t":0.11375,"c":0.055,"d":0.03},{"t":0.115,"c":0.19,"d":0.6},{"t":0.11625,"c":-0.13,"d":0.09},
      {"t":0.1175,"c":0.05,"d":0.04},{"t":0.11875,"c":-0.06,"d":0.18},{"t":0.12,"c":0.045,"d":0.05},{"t":0.12125,"c":-0.05,"d":0.09},
      {"t":0.1225,"c":0.06,"d":0.16},{"t":0.12375,"c":-0.04,"d":0.03},{"t":0.125,"c":0.045,"d":0.08},{"t":0.12625,"c":-0.05,"d":0.02},
      {"t":0.1275,"c":0.04,"d":0.07},{"t":0.12875,"c":0.07,"d":0.24},{"t":0.13,"c":-0.045,"d":0.03},{"t":0.13125,"c":0.035,"d":0.06},
      {"t":0.1325,"c":-0.04,"d":0.015},{"t":0.13375,"c":0.03,"d":0.05},{"t":0.135,"c":0.06,"d":0.38},
      {"t":0.13625,"c":-0.03,"d":0.03},{"t":0.1375,"c":0.015,"d":0.01},{"t":0.13875,"c":-0.012,"d":0.02},{"t":0.14,"c":0.01,"d":0.005},
      {"t":0.14125,"c":-0.015,"d":0.018},{"t":0.1425,"c":0.012,"d":0.003},{"t":0.14375,"c":-0.008,"d":0.015},{"t":0.145,"c":0.02,"d":0.08},
      {"t":0.14625,"c":-0.01,"d":0.004},{"t":0.1475,"c":0.008,"d":0.016},{"t":0.14875,"c":-0.014,"d":0.002},{"t":0.15,"c":0.01,"d":0.02},
      {"t":0.15125,"c":-0.006,"d":0.006},{"t":0.1525,"c":0.012,"d":0.014},{"t":0.15375,"c":-0.01,"d":0.002},{"t":0.155,"c":0.008,"d":0.018},
      {"t":0.15625,"c":-0.012,"d":0.004},{"t":0.1575,"c":0.014,"d":0.012},{"t":0.15875,"c":-0.008,"d":0.002},{"t":0.16,"c":0.01,"d":0.02},
      {"t":0.16125,"c":-0.013,"d":0.005},{"t":0.1625,"c":0.009,"d":0.015},{"t":0.16375,"c":-0.01,"d":0.003},{"t":0.165,"c":0.012,"d":0.019},
      {"t":0.16625,"c":-0.007,"d":0.004},{"t":0.1675,"c":0.011,"d":0.013},{"t":0.16875,"c":-0.012,"d":0.002},{"t":0.17,"c":0.008,"d":0.017},
      {"t":0.17125,"c":-0.01,"d":0.005},{"t":0.1725,"c":0.013,"d":0.022},{"t":0.17375,"c":-0.009,"d":0.003},{"t":0.175,"c":0.01,"d":0.014},
      {"t":0.17625,"c":-0.014,"d":0.004},{"t":0.1775,"c":0.009,"d":0.02},{"t":0.17875,"c":-0.01,"d":0.003},{"t":0.18,"c":0.012,"d":0.016},
      {"t":0.18125,"c":-0.008,"d":0.005},{"t":0.1825,"c":0.015,"d":0.025},{"t":0.18375,"c":-0.012,"d":0.006},
      {"t":0.185,"c":0.025,"d":0.04},{"t":0.18625,"c":-0.03,"d":0.01},{"t":0.1875,"c":0.035,"d":0.07},{"t":0.18875,"c":-0.04,"d":0.02},
      {"t":0.19,"c":0.04,"d":0.15},{"t":0.19125,"c":-0.035,"d":0.03},{"t":0.1925,"c":0.03,"d":0.12},{"t":0.19375,"c":-0.03,"d":0.02},
      {"t":0.195,"c":0.025,"d":0.06},{"t":0.19625,"c":-0.02,"d":0.01},
      {"t":0.1975,"c":0.012,"d":0.018},{"t":0.19875,"c":-0.01,"d":0.003},{"t":0.2,"c":0.009,"d":0.015},{"t":0.20125,"c":-0.013,"d":0.004},
      {"t":0.2025,"c":0.01,"d":0.02},{"t":0.20375,"c":-0.008,"d":0.002},{"t":0.205,"c":0.012,"d":0.016},{"t":0.20625,"c":-0.01,"d":0.005},
      {"t":0.2075,"c":0.008,"d":0.013},{"t":0.20875,"c":-0.012,"d":0.003},{"t":0.21,"c":0.011,"d":0.019},{"t":0.21125,"c":-0.009,"d":0.004},
      {"t":0.2125,"c":0.01,"d":0.014},{"t":0.21375,"c":-0.011,"d":0.002},{"t":0.215,"c":0.013,"d":0.02},{"t":0.21625,"c":-0.008,"d":0.005},
      {"t":0.2175,"c":0.009,"d":0.015},{"t":0.21875,"c":-0.012,"d":0.003},{"t":0.22,"c":0.01,"d":0.018},{"t":0.22125,"c":-0.01,"d":0.004},
      {"t":0.2225,"c":0.012,"d":0.022},{"t":0.22375,"c":-0.009,"d":0.003},{"t":0.225,"c":0.008,"d":0.014},{"t":0.22625,"c":-0.013,"d":0.005},
      {"t":0.2275,"c":0.011,"d":0.017},{"t":0.22875,"c":-0.01,"d":0.002},{"t":0.23,"c":0.009,"d":0.019},{"t":0.23125,"c":-0.011,"d":0.004},
      {"t":0.2325,"c":0.012,"d":0.015},{"t":0.23375,"c":-0.008,"d":0.003},{"t":0.235,"c":0.01,"d":0.02},{"t":0.23625,"c":-0.012,"d":0.005},
      {"t":0.2375,"c":0.009,"d":0.016},{"t":0.23875,"c":-0.01,"d":0.003},{"t":0.24,"c":0.013,"d":0.021},{"t":0.24125,"c":-0.009,"d":0.004},
      {"t":0.2425,"c":0.01,"d":0.014},{"t":0.24375,"c":-0.012,"d":0.002},{"t":0.245,"c":0.011,"d":0.018},{"t":0.24625,"c":-0.01,"d":0.005},
      {"t":0.2475,"c":0.009,"d":0.015},{"t":0.24875,"c":-0.013,"d":0.003},{"t":0.25,"c":0.012,"d":0.02},{"t":0.25125,"c":-0.009,"d":0.004},
      {"t":0.2525,"c":0.01,"d":0.017},{"t":0.25375,"c":-0.011,"d":0.003},{"t":0.255,"c":0.013,"d":0.022},{"t":0.25625,"c":-0.01,"d":0.005},
      {"t":0.2575,"c":0.012,"d":0.018},{"t":0.25875,"c":-0.014,"d":0.004},{"t":0.26,"c":0.015,"d":0.025},{"t":0.26125,"c":-0.012,"d":0.006},
      {"t":0.2625,"c":0.016,"d":0.03},{"t":0.26375,"c":-0.015,"d":0.005},{"t":0.265,"c":0.018,"d":0.028},{"t":0.26625,"c":-0.016,"d":0.008},
      {"t":0.2675,"c":0.02,"d":0.035},
      {"t":0.26875,"c":-0.02,"d":0.01},{"t":0.27,"c":0.022,"d":0.04},{"t":0.27125,"c":-0.025,"d":0.1},{"t":0.2725,"c":0.02,"d":0.015},
      {"t":0.27375,"c":-0.028,"d":0.045},{"t":0.275,"c":0.025,"d":0.01},{"t":0.27625,"c":-0.03,"d":0.05},{"t":0.2775,"c":0.028,"d":0.1},
      {"t":0.27875,"c":-0.025,"d":0.02},{"t":0.28,"c":0.03,"d":0.06},{"t":0.28125,"c":-0.035,"d":0.015},{"t":0.2825,"c":0.032,"d":0.065},
      {"t":0.28375,"c":-0.03,"d":0.02},{"t":0.285,"c":0.038,"d":0.07},{"t":0.28625,"c":-0.035,"d":0.025},{"t":0.2875,"c":0.05,"d":0.25},
      {"t":0.28875,"c":-0.04,"d":0.03},{"t":0.29,"c":0.04,"d":0.08},{"t":0.29125,"c":-0.045,"d":0.02},{"t":0.2925,"c":0.042,"d":0.09},
      {"t":0.29375,"c":-0.05,"d":0.3},{"t":0.295,"c":0.045,"d":0.04},{"t":0.29625,"c":-0.05,"d":0.1},{"t":0.2975,"c":0.06,"d":0.46},
      {"t":0.29875,"c":-0.055,"d":0.05},{"t":0.3,"c":0.15,"d":0.6},
      {"t":0.30125,"c":-0.06,"d":0.08},{"t":0.3025,"c":0.07,"d":0.04},{"t":0.30375,"c":-0.05,"d":0.12},{"t":0.305,"c":-0.19,"d":0.55},
      {"t":0.30625,"c":0.06,"d":0.06},{"t":0.3075,"c":0.1,"d":0.35},{"t":0.30875,"c":-0.07,"d":0.05},{"t":0.31,"c":0.065,"d":0.12},
      {"t":0.31125,"c":-0.08,"d":0.3},{"t":0.3125,"c":0.06,"d":0.04},{"t":0.31375,"c":-0.065,"d":0.1},{"t":0.315,"c":0.07,"d":0.06},
      {"t":0.31625,"c":-0.06,"d":0.14},{"t":0.3175,"c":-0.11,"d":0.42},{"t":0.31875,"c":0.075,"d":0.07},{"t":0.32,"c":-0.07,"d":0.12},
      {"t":0.32125,"c":0.065,"d":0.05},{"t":0.3225,"c":-0.075,"d":0.11},{"t":0.32375,"c":0.1,"d":0.3},{"t":0.325,"c":-0.06,"d":0.06},
      {"t":0.32625,"c":0.07,"d":0.13},{"t":0.3275,"c":-0.08,"d":0.04},{"t":0.32875,"c":0.06,"d":0.1},{"t":0.33,"c":-0.1,"d":0.38},
      {"t":0.33125,"c":0.07,"d":0.08},{"t":0.3325,"c":-0.065,"d":0.15},{"t":0.33375,"c":0.075,"d":0.05},{"t":0.335,"c":0.09,"d":0.55},
      {"t":0.33625,"c":-0.07,"d":0.09},{"t":0.3375,"c":0.06,"d":0.12},{"t":0.33875,"c":-0.08,"d":0.32},{"t":0.34,"c":0.065,"d":0.06},
      {"t":0.34125,"c":-0.09,"d":0.38},{"t":0.3425,"c":0.07,"d":0.1},{"t":0.34375,"c":-0.06,"d":0.05},{"t":0.345,"c":0.065,"d":0.13},
      {"t":0.34625,"c":-0.08,"d":0.3},{"t":0.3475,"c":0.06,"d":0.07},{"t":0.34875,"c":-0.065,"d":0.11},{"t":0.35,"c":0.07,"d":0.27},
      {"t":0.35125,"c":-0.06,"d":0.05},{"t":0.3525,"c":0.06,"d":0.1},{"t":0.35375,"c":-0.07,"d":0.06},{"t":0.355,"c":0.085,"d":0.42},
      {"t":0.35625,"c":-0.055,"d":0.08},{"t":0.3575,"c":0.06,"d":0.12},
      {"t":0.35875,"c":0.075,"d":0.45},{"t":0.36,"c":-0.05,"d":0.06},{"t":0.36125,"c":0.045,"d":0.1},{"t":0.3625,"c":-0.06,"d":0.32},
      {"t":0.36375,"c":0.04,"d":0.04},{"t":0.365,"c":-0.045,"d":0.09},{"t":0.36625,"c":0.05,"d":0.05},{"t":0.3675,"c":-0.055,"d":0.28},
      {"t":0.36875,"c":0.04,"d":0.06},{"t":0.37,"c":-0.04,"d":0.1},{"t":0.37125,"c":0.05,"d":0.22},{"t":0.3725,"c":-0.035,"d":0.04},
      {"t":0.37375,"c":0.04,"d":0.08},{"t":0.375,"c":-0.045,"d":0.2},{"t":0.37625,"c":0.035,"d":0.03},{"t":0.3775,"c":-0.04,"d":0.07},
      {"t":0.37875,"c":0.03,"d":0.04},{"t":0.38,"c":-0.05,"d":0.25},{"t":0.38125,"c":0.035,"d":0.05},{"t":0.3825,"c":-0.03,"d":0.08},
      {"t":0.38375,"c":0.04,"d":0.18},{"t":0.385,"c":-0.03,"d":0.03},{"t":0.38625,"c":0.03,"d":0.06},{"t":0.3875,"c":-0.035,"d":0.02},
      {"t":0.38875,"c":0.04,"d":0.22},{"t":0.39,"c":-0.025,"d":0.04},{"t":0.39125,"c":0.025,"d":0.05},{"t":0.3925,"c":-0.03,"d":0.015},
      {"t":0.39375,"c":0.02,"d":0.04},{"t":0.395,"c":-0.025,"d":0.13},{"t":0.39625,"c":0.02,"d":0.01},
      {"t":0.3975,"c":-0.015,"d":0.025},{"t":0.39875,"c":0.012,"d":0.004},{"t":0.4,"c":-0.014,"d":0.02},{"t":0.40125,"c":0.01,"d":0.003},
      {"t":0.4025,"c":-0.012,"d":0.018},{"t":0.40375,"c":0.009,"d":0.005},{"t":0.405,"c":-0.011,"d":0.015},{"t":0.40625,"c":0.012,"d":0.002},
      {"t":0.4075,"c":-0.008,"d":0.019},{"t":0.40875,"c":0.01,"d":0.004},{"t":0.41,"c":-0.012,"d":0.014},{"t":0.41125,"c":0.009,"d":0.003},
      {"t":0.4125,"c":-0.01,"d":0.02},{"t":0.41375,"c":0.013,"d":0.005},{"t":0.415,"c":-0.009,"d":0.016},{"t":0.41625,"c":0.011,"d":0.002},
      {"t":0.4175,"c":-0.012,"d":0.017},{"t":0.41875,"c":0.008,"d":0.004},{"t":0.42,"c":-0.01,"d":0.021},{"t":0.42125,"c":0.012,"d":0.003},
      {"t":0.4225,"c":-0.009,"d":0.015},{"t":0.42375,"c":0.01,"d":0.005},{"t":0.425,"c":-0.013,"d":0.018},{"t":0.42625,"c":0.011,"d":0.002},
      {"t":0.4275,"c":-0.008,"d":0.014},{"t":0.42875,"c":0.012,"d":0.004},{"t":0.43,"c":-0.011,"d":0.02},{"t":0.43125,"c":0.009,"d":0.003},
      {"t":0.4325,"c":-0.01,"d":0.016},{"t":0.43375,"c":0.013,"d":0.005},{"t":0.435,"c":-0.012,"d":0.019},{"t":0.43625,"c":0.008,"d":0.002},
      {"t":0.4375,"c":-0.01,"d":0.015},{"t":0.43875,"c":0.011,"d":0.004},{"t":0.44,"c":-0.009,"d":0.022},{"t":0.44125,"c":0.012,"d":0.003},
      {"t":0.4425,"c":-0.013,"d":0.017},{"t":0.44375,"c":0.01,"d":0.005},{"t":0.445,"c":-0.008,"d":0.014},{"t":0.44625,"c":0.009,"d":0.002},
      {"t":0.4475,"c":-0.012,"d":0.02},{"t":0.44875,"c":0.01,"d":0.004},{"t":0.45,"c":-0.011,"d":0.016},{"t":0.45125,"c":0.013,"d":0.003},
      {"t":0.4525,"c":-0.01,"d":0.018},{"t":0.45375,"c":0.012,"d":0.005},{"t":0.455,"c":-0.014,"d":0.022},{"t":0.45625,"c":0.011,"d":0.004},
      {"t":0.4575,"c":-0.015,"d":0.025},{"t":0.45875,"c":0.014,"d":0.006},{"t":0.46,"c":-0.016,"d":0.03},{"t":0.46125,"c":0.018,"d":0.008},
      {"t":0.4625,"c":-0.02,"d":0.035},{"t":0.46375,"c":0.016,"d":0.01},{"t":0.465,"c":-0.022,"d":0.04},{"t":0.46625,"c":0.02,"d":0.012},
      {"t":0.4675,"c":-0.024,"d":0.05},
      {"t":0.46875,"c":0.025,"d":0.015},{"t":0.47,"c":-0.03,"d":0.06},{"t":0.47125,"c":0.035,"d":0.11},{"t":0.4725,"c":-0.03,"d":0.02},
      {"t":0.47375,"c":0.03,"d":0.07},{"t":0.475,"c":-0.035,"d":0.12},{"t":0.47625,"c":0.025,"d":0.03},{"t":0.4775,"c":-0.03,"d":0.06},
      {"t":0.47875,"c":0.03,"d":0.015},{"t":0.48,"c":-0.025,"d":0.05},{"t":0.48125,"c":0.028,"d":0.02},{"t":0.4825,"c":-0.03,"d":0.07},
      {"t":0.48375,"c":0.025,"d":0.03},{"t":0.485,"c":0.14,"d":0.6},{"t":0.48625,"c":-0.06,"d":0.05},{"t":0.4875,"c":0.03,"d":0.08},
      {"t":0.48875,"c":-0.03,"d":0.02},{"t":0.49,"c":0.025,"d":0.06},{"t":0.49125,"c":-0.035,"d":0.015},{"t":0.4925,"c":0.03,"d":0.07},
      {"t":0.49375,"c":-0.025,"d":0.03},{"t":0.495,"c":-0.06,"d":0.36},{"t":0.49625,"c":-0.1,"d":0.05},{"t":0.4975,"c":0.03,"d":0.08},
      {"t":0.49875,"c":-0.03,"d":0.02},{"t":0.5,"c":0.025,"d":0.06},{"t":0.50125,"c":-0.04,"d":0.13},{"t":0.5025,"c":0.03,"d":0.02},
      {"t":0.50375,"c":-0.025,"d":0.05},{"t":0.505,"c":0.028,"d":0.015},{"t":0.50625,"c":-0.03,"d":0.06},{"t":0.5075,"c":0.025,"d":0.02},
      {"t":0.50875,"c":-0.02,"d":0.045},{"t":0.51,"c":0.022,"d":0.01},{"t":0.51125,"c":-0.025,"d":0.05},{"t":0.5125,"c":0.02,"d":0.015},
      {"t":0.51375,"c":-0.022,"d":0.04},{"t":0.515,"c":0.05,"d":0.08},{"t":0.51625,"c":-0.02,"d":0.01},{"t":0.5175,"c":0.018,"d":0.04},
      {"t":0.51875,"c":-0.022,"d":0.012},{"t":0.52,"c":0.02,"d":0.035},{"t":0.52125,"c":-0.018,"d":0.008},{"t":0.5225,"c":0.015,"d":0.03},
      {"t":0.52375,"c":-0.02,"d":0.01},
      {"t":0.525,"c":0.018,"d":0.03},{"t":0.52625,"c":-0.015,"d":0.005},{"t":0.5275,"c":0.016,"d":0.025},{"t":0.52875,"c":-0.02,"d":0.008},
      {"t":0.53,"c":0.014,"d":0.03},{"t":0.53125,"c":-0.016,"d":0.004},{"t":0.5325,"c":0.02,"d":0.035},{"t":0.53375,"c":-0.03,"d":0.1},
      {"t":0.535,"c":0.015,"d":0.01},{"t":0.53625,"c":-0.018,"d":0.03},{"t":0.5375,"c":0.016,"d":0.006},{"t":0.53875,"c":-0.014,"d":0.025},
      {"t":0.54,"c":0.02,"d":0.008},{"t":0.54125,"c":-0.016,"d":0.035},{"t":0.5425,"c":0.018,"d":0.005},{"t":0.54375,"c":-0.02,"d":0.03},
      {"t":0.545,"c":0.015,"d":0.01},{"t":0.54625,"c":-0.018,"d":0.04},{"t":0.5475,"c":0.022,"d":0.006},{"t":0.54875,"c":-0.016,"d":0.03},
      {"t":0.55,"c":0.018,"d":0.01},{"t":0.55125,"c":-0.02,"d":0.045},{"t":0.5525,"c":0.016,"d":0.008},{"t":0.55375,"c":-0.018,"d":0.03},
      {"t":0.555,"c":0.05,"d":0.24},{"t":0.55625,"c":-0.03,"d":0.02},{"t":0.5575,"c":0.018,"d":0.035},{"t":0.55875,"c":-0.02,"d":0.006},
      {"t":0.56,"c":0.016,"d":0.03},{"t":0.56125,"c":-0.018,"d":0.008},{"t":0.5625,"c":0.02,"d":0.035},{"t":0.56375,"c":-0.015,"d":0.005},
      {"t":0.565,"c":0.018,"d":0.025},{"t":0.56625,"c":-0.02,"d":0.01},{"t":0.5675,"c":0.016,"d":0.04},{"t":0.56875,"c":-0.018,"d":0.006},
      {"t":0.57,"c":0.022,"d":0.03},{"t":0.57125,"c":-0.016,"d":0.008},{"t":0.5725,"c":0.018,"d":0.035},{"t":0.57375,"c":-0.02,"d":0.005},
      {"t":0.575,"c":0.015,"d":0.03},{"t":0.57625,"c":-0.018,"d":0.01},{"t":0.5775,"c":0.02,"d":0.04},{"t":0.57875,"c":-0.016,"d":0.006},
      {"t":0.58,"c":0.018,"d":0.03},{"t":0.58125,"c":-0.02,"d":0.008},{"t":0.5825,"c":0.016,"d":0.035},{"t":0.58375,"c":-0.018,"d":0.005},
      {"t":0.585,"c":0.02,"d":0.028},{"t":0.58625,"c":-0.015,"d":0.01},{"t":0.5875,"c":0.018,"d":0.04},{"t":0.58875,"c":-0.02,"d":0.006},
      {"t":0.59,"c":0.016,"d":0.03},{"t":0.59125,"c":-0.018,"d":0.008},{"t":0.5925,"c":0.02,"d":0.045},{"t":0.59375,"c":-0.016,"d":0.005},
      {"t":0.595,"c":0.018,"d":0.03},{"t":0.59625,"c":-0.02,"d":0.01},{"t":0.5975,"c":0.015,"d":0.035},{"t":0.59875,"c":-0.018,"d":0.006},
      {"t":0.6,"c":0.02,"d":0.03},{"t":0.60125,"c":-0.016,"d":0.008},{"t":0.6025,"c":0.018,"d":0.04},{"t":0.60375,"c":-0.02,"d":0.005},
      {"t":0.605,"c":0.016,"d":0.03},{"t":0.60625,"c":-0.018,"d":0.01},{"t":0.6075,"c":0.02,"d":0.035},{"t":0.60875,"c":-0.015,"d":0.006},
      {"t":0.61,"c":0.018,"d":0.03},{"t":0.61125,"c":-0.02,"d":0.008},{"t":0.6125,"c":0.016,"d":0.045},{"t":0.61375,"c":-0.018,"d":0.005},
      {"t":0.615,"c":0.02,"d":0.03},{"t":0.61625,"c":-0.016,"d":0.01},{"t":0.6175,"c":0.022,"d":0.04},{"t":0.61875,"c":-0.018,"d":0.006},
      {"t":0.62,"c":0.02,"d":0.035},{"t":0.62125,"c":-0.02,"d":0.008},{"t":0.6225,"c":0.018,"d":0.04},{"t":0.62375,"c":-0.016,"d":0.006},
      {"t":0.625,"c":0.015,"d":0.03}
    ],
    "f": [
      {"t":0,"f":0.92},{"t":0.0006,"f":0.97},{"t":0.0017,"f":0.99},{"t":0.0033,"f":1},
      {"t":0.1422,"f":1},{"t":0.1439,"f":0.98},{"t":0.145,"f":0.93},{"t":0.1461,"f":0.82},{"t":0.1472,"f":0.62},{"t":0.1483,"f":0.4},
      {"t":0.1494,"f":0.2},{"t":0.1506,"f":0.08},{"t":0.1517,"f":0.02},{"t":0.1533,"f":0},
      {"t":0.2622,"f":0},{"t":0.2633,"f":0.03},{"t":0.2644,"f":0.12},{"t":0.2656,"f":0.35},{"t":0.2667,"f":0.62},{"t":0.2678,"f":0.85},
      {"t":0.2689,"f":0.95},{"t":0.2706,"f":0.99},{"t":0.2728,"f":1},
      {"t":0.3994,"f":1},{"t":0.4011,"f":0.97},{"t":0.4022,"f":0.88},{"t":0.4033,"f":0.65},{"t":0.4044,"f":0.38},{"t":0.4056,"f":0.15},
      {"t":0.4067,"f":0.05},{"t":0.4083,"f":0},
      {"t":0.4567,"f":0},{"t":0.4583,"f":0.03},{"t":0.46,"f":0.12},{"t":0.4611,"f":0.3},{"t":0.4622,"f":0.55},{"t":0.4633,"f":0.78},
      {"t":0.4644,"f":0.92},{"t":0.4661,"f":0.98},{"t":0.4683,"f":1},
      {"t":0.5461,"f":1},{"t":0.5478,"f":0.97},{"t":0.5489,"f":0.88},{"t":0.55,"f":0.68},{"t":0.5511,"f":0.42},{"t":0.5522,"f":0.2},
      {"t":0.5533,"f":0.07},{"t":0.555,"f":0.01},{"t":0.5567,"f":0},{"t":0.625,"f":0}
    ],
    "eg": [
      {"t":0,"e":0.4,"g":0.4},{"t":0.0008,"e":1,"g":1},{"t":0.0048,"e":1,"g":1},{"t":0.0058,"e":0.4,"g":0.4},
      {"t":0.0095,"e":0.4,"g":0.4},{"t":0.0109,"e":1,"g":1},{"t":0.0123,"e":0.4,"g":0.4},
      {"t":0.0138,"e":0.4,"g":0.4},{"t":0.0152,"e":1,"g":1},{"t":0.0166,"e":0.4,"g":0.4},
      {"t":0.0207,"e":0.4,"g":0.4},{"t":0.0221,"e":1,"g":1},{"t":0.0235,"e":0.4,"g":0.4},
      {"t":0.0243,"e":0.4,"g":0.4},{"t":0.0257,"e":1,"g":1},{"t":0.0271,"e":0.4,"g":0.4},
      {"t":0.029,"e":0.4,"g":0.4},{"t":0.0304,"e":1,"g":1},{"t":0.0318,"e":0.4,"g":0.4},
      {"t":0.0327,"e":0.4,"g":0.4},{"t":0.0341,"e":1,"g":1},{"t":0.0355,"e":0.4,"g":0.4},
      {"t":0.0401,"e":0.4,"g":0.4},{"t":0.0415,"e":1,"g":1},{"t":0.0429,"e":0.4,"g":0.4},
      {"t":0.0438,"e":0.4,"g":0.4},{"t":0.0452,"e":1,"g":1},{"t":0.0466,"e":0.4,"g":0.4},
      {"t":0.0475,"e":0.4,"g":0.4},{"t":0.0489,"e":1,"g":1},{"t":0.0503,"e":0.4,"g":0.4},
      {"t":0.0549,"e":0.4,"g":0.4},{"t":0.0563,"e":1,"g":1},{"t":0.0577,"e":0.4,"g":0.4},
      {"t":0.0586,"e":0.4,"g":0.4},{"t":0.06,"e":1,"g":1},{"t":0.0614,"e":0.4,"g":0.4},
      {"t":0.0623,"e":0.4,"g":0.4},{"t":0.0637,"e":1,"g":1},{"t":0.0651,"e":0.4,"g":0.4},
      {"t":0.066,"e":0.4,"g":0.4},{"t":0.0674,"e":1,"g":1},{"t":0.0688,"e":0.4,"g":0.4},
      {"t":0.0707,"e":0.4,"g":0.4},{"t":0.0721,"e":1,"g":1},{"t":0.0735,"e":0.4,"g":0.4},
      {"t":0.0743,"e":0.4,"g":0.4},{"t":0.0757,"e":1,"g":1},{"t":0.0771,"e":0.4,"g":0.4},
      {"t":0.078,"e":0.4,"g":0.4},{"t":0.0794,"e":1,"g":1},{"t":0.0808,"e":0.4,"g":0.4},
      {"t":0.0818,"e":0.4,"g":0.4},{"t":0.0832,"e":1,"g":1},{"t":0.0846,"e":0.4,"g":0.4},
      {"t":0.0854,"e":0.4,"g":0.4},{"t":0.0868,"e":1,"g":1},{"t":0.0882,"e":0.4,"g":0.4},
      {"t":0.0892,"e":0.4,"g":0.4},{"t":0.0906,"e":1,"g":1},{"t":0.092,"e":0.4,"g":0.4},
      {"t":0.0938,"e":0.4,"g":0.4},{"t":0.0952,"e":1,"g":1},{"t":0.0966,"e":0.4,"g":0.4},
      {"t":0.1003,"e":0.4,"g":0.4},{"t":0.1017,"e":1,"g":1},{"t":0.1031,"e":0.4,"g":0.4},
      {"t":0.104,"e":0.4,"g":0.4},{"t":0.1054,"e":1,"g":1},{"t":0.1068,"e":0.4,"g":0.4},
      {"t":0.1077,"e":0.4,"g":0.4},{"t":0.1091,"e":1,"g":1},{"t":0.1105,"e":0.4,"g":0.4},
      {"t":0.111,"e":0.4,"g":0.4},{"t":0.1124,"e":1,"g":1},{"t":0.1138,"e":0.4,"g":0.4},
      {"t":0.1151,"e":0.4,"g":0.4},{"t":0.1165,"e":1,"g":1},{"t":0.1179,"e":0.4,"g":0.4},
      {"t":0.1207,"e":0.4,"g":0.4},{"t":0.1221,"e":1,"g":1},{"t":0.1235,"e":0.4,"g":0.4},
      {"t":0.1243,"e":0.4,"g":0.4},{"t":0.1257,"e":1,"g":1},{"t":0.1271,"e":0.4,"g":0.4},
      {"t":0.129,"e":0.4,"g":0.4},{"t":0.1304,"e":1,"g":1},{"t":0.1318,"e":0.4,"g":0.4},
      {"t":0.1327,"e":0.4,"g":0.4},{"t":0.1341,"e":1,"g":1},{"t":0.1355,"e":0.4,"g":0.4},
      {"t":0.1373,"e":0.4,"g":0.4},{"t":0.1387,"e":1,"g":1},{"t":0.1401,"e":0.4,"g":0.4},
      {"t":0.1429,"e":0.4,"g":0.4},{"t":0.1443,"e":1,"g":1},{"t":0.1457,"e":0.4,"g":0.4},
      {"t":0.1461,"g":0.36},{"t":0.1472,"g":0.28},{"t":0.1483,"g":0.2},{"t":0.1494,"g":0.12},{"t":0.1506,"g":0.07},
      {"t":0.1517,"g":0.055},{"t":0.1533,"g":0.05},
      {"t":0.1503,"e":0.4},{"t":0.1517,"e":1},{"t":0.1531,"e":0.4},
      {"t":0.1577,"e":0.4},{"t":0.1591,"e":1},{"t":0.1605,"e":0.4},
      {"t":0.1632,"e":0.4},{"t":0.1646,"e":1},{"t":0.166,"e":0.4},
      {"t":0.1697,"e":0.4},{"t":0.1711,"e":1},{"t":0.1725,"e":0.4},
      {"t":0.174,"e":0.4},{"t":0.1754,"e":1},{"t":0.1768,"e":0.4},
      {"t":0.1777,"e":0.4},{"t":0.1791,"e":1},{"t":0.1805,"e":0.4},
      {"t":0.1827,"e":0.4},{"t":0.1841,"e":1},{"t":0.1855,"e":0.4},
      {"t":0.1888,"e":0.4},{"t":0.1902,"e":1},{"t":0.1916,"e":0.4},
      {"t":0.1957,"e":0.4},{"t":0.1971,"e":1},{"t":0.1985,"e":0.4},
      {"t":0.1993,"e":0.4},{"t":0.2007,"e":1},{"t":0.2021,"e":0.4},
      {"t":0.2058,"e":0.4},{"t":0.2072,"e":1},{"t":0.2086,"e":0.4},
      {"t":0.2095,"e":0.4},{"t":0.2109,"e":1},{"t":0.2123,"e":0.4},
      {"t":0.2132,"e":0.4},{"t":0.2146,"e":1},{"t":0.216,"e":0.4},
      {"t":0.2207,"e":0.4},{"t":0.2221,"e":1},{"t":0.2235,"e":0.4},
      {"t":0.2271,"e":0.4},{"t":0.2285,"e":1},{"t":0.2299,"e":0.4},
      {"t":0.2313,"e":1},{"t":0.2327,"e":0.4},
      {"t":0.2345,"e":0.4},{"t":0.2359,"e":1},{"t":0.2373,"e":0.4},
      {"t":0.2392,"e":0.4},{"t":0.2406,"e":1},{"t":0.242,"e":0.4},
      {"t":0.2469,"e":0.4},{"t":0.2483,"e":1},{"t":0.2497,"e":0.4},
      {"t":0.2521,"e":0.4},{"t":0.2535,"e":1},{"t":0.2549,"e":0.4},
      {"t":0.2558,"e":0.4},{"t":0.2572,"e":1},{"t":0.2586,"e":0.4},
      {"t":0.2595,"e":0.4},{"t":0.2609,"e":1},{"t":0.2623,"e":0.4},
      {"t":0.2632,"e":0.4},{"t":0.2646,"e":1},{"t":0.266,"e":0.4},
      {"t":0.2669,"e":0.4},{"t":0.2683,"e":1},
      {"t":0.2637,"g":0.05},{"t":0.2661,"g":0.52},{"t":0.2668,"g":0.31},{"t":0.2683,"g":0.36},{"t":0.2694,"g":0.39},
      {"t":0.2697,"e":0.4,"g":0.4},{"t":0.2711,"e":1,"g":1},{"t":0.2725,"e":0.4,"g":0.4},
      {"t":0.2743,"e":0.4,"g":0.4},{"t":0.2757,"e":1,"g":1},{"t":0.2771,"e":0.4,"g":0.4},
      {"t":0.279,"e":0.4,"g":0.4},{"t":0.2804,"e":1,"g":1},{"t":0.2818,"e":0.4,"g":0.4},
      {"t":0.2836,"e":0.4,"g":0.4},{"t":0.285,"e":1,"g":1},{"t":0.2864,"e":0.4,"g":0.4},
      {"t":0.2882,"e":0.4,"g":0.4},{"t":0.2896,"e":1,"g":1},{"t":0.291,"e":0.4,"g":0.4},
      {"t":0.2929,"e":0.4,"g":0.4},{"t":0.2943,"e":1,"g":1},{"t":0.2957,"e":0.4,"g":0.4},
      {"t":0.2965,"e":0.4,"g":0.4},{"t":0.2979,"e":1,"g":1},{"t":0.2993,"e":0.4,"g":0.4},
      {"t":0.3003,"e":0.4,"g":0.4},{"t":0.3017,"e":1,"g":1},{"t":0.3031,"e":0.4,"g":0.4},
      {"t":0.304,"e":0.4,"g":0.4},{"t":0.3054,"e":1,"g":1},{"t":0.3068,"e":0.4,"g":0.4},
      {"t":0.3077,"e":0.4,"g":0.4},{"t":0.3091,"e":1,"g":1},{"t":0.3105,"e":0.4,"g":0.4},
      {"t":0.3123,"e":0.4,"g":0.4},{"t":0.3137,"e":1,"g":1},{"t":0.3151,"e":0.4,"g":0.4},
      {"t":0.3169,"e":0.4,"g":0.4},{"t":0.3183,"e":1,"g":1},{"t":0.3197,"e":0.4,"g":0.4},
      {"t":0.3215,"e":0.4,"g":0.4},{"t":0.3229,"e":1,"g":1},{"t":0.3243,"e":0.4,"g":0.4},
      {"t":0.3253,"e":0.4,"g":0.4},{"t":0.3267,"e":1,"g":1},{"t":0.3281,"e":0.4,"g":0.4},
      {"t":0.3299,"e":0.4,"g":0.4},{"t":0.3313,"e":1,"g":1},{"t":0.3327,"e":0.4,"g":0.4},
      {"t":0.3345,"e":0.4,"g":0.4},{"t":0.3359,"e":1,"g":1},{"t":0.3373,"e":0.4,"g":0.4},
      {"t":0.3392,"e":0.4,"g":0.4},{"t":0.3406,"e":1,"g":1},{"t":0.342,"e":0.4,"g":0.4},
      {"t":0.3438,"e":0.4,"g":0.4},{"t":0.3452,"e":1,"g":1},{"t":0.3466,"e":0.4,"g":0.4},
      {"t":0.3484,"e":0.4,"g":0.4},{"t":0.3498,"e":1,"g":1},{"t":0.3512,"e":0.4,"g":0.4},
      {"t":0.3521,"e":0.4,"g":0.4},{"t":0.3535,"e":1,"g":1},{"t":0.3549,"e":0.4,"g":0.4},
      {"t":0.3568,"e":0.4,"g":0.4},{"t":0.3582,"e":1,"g":1},{"t":0.3596,"e":0.4,"g":0.4},
      {"t":0.3614,"e":0.4,"g":0.4},{"t":0.3628,"e":1,"g":1},{"t":0.3642,"e":0.4,"g":0.4},
      {"t":0.366,"e":0.4,"g":0.4},{"t":0.3674,"e":1,"g":1},{"t":0.3688,"e":0.4,"g":0.4},
      {"t":0.3707,"e":0.4,"g":0.4},{"t":0.3721,"e":1,"g":1},{"t":0.3735,"e":0.4,"g":0.4},
      {"t":0.3753,"e":0.4,"g":0.4},{"t":0.3767,"e":1,"g":1},{"t":0.3781,"e":0.4,"g":0.4},
      {"t":0.3799,"e":0.4,"g":0.4},{"t":0.3813,"e":1,"g":1},{"t":0.3827,"e":0.4,"g":0.4},
      {"t":0.3845,"e":0.4,"g":0.4},{"t":0.3859,"e":1,"g":1},{"t":0.3873,"e":0.4,"g":0.4},
      {"t":0.3892,"e":0.4,"g":0.4},{"t":0.3906,"e":1,"g":1},{"t":0.392,"e":0.4,"g":0.4},
      {"t":0.3933,"e":0.4,"g":0.4},{"t":0.3947,"e":1,"g":1},{"t":0.3961,"e":0.4,"g":0.4},
      {"t":0.3975,"e":0.4,"g":0.4},{"t":0.3989,"e":1,"g":1},{"t":0.4003,"e":0.4,"g":0.4},
      {"t":0.4011,"g":0.37},{"t":0.4039,"g":0.19},{"t":0.4048,"g":0.17},{"t":0.4053,"g":0.12},{"t":0.4059,"g":0.14},{"t":0.4066,"g":0.05},
      {"t":0.4019,"e":0.4},{"t":0.4033,"e":1},{"t":0.4047,"e":0.4},
      {"t":0.4064,"e":0.4},{"t":0.4078,"e":1},{"t":0.4092,"e":0.4},
      {"t":0.4114,"e":0.4},{"t":0.4128,"e":1},{"t":0.4142,"e":0.4},
      {"t":0.4153,"e":0.4},{"t":0.4167,"e":1},{"t":0.4181,"e":0.4},
      {"t":0.4197,"e":0.4},{"t":0.4211,"e":1},{"t":0.4225,"e":0.4},
      {"t":0.4247,"e":0.4},{"t":0.4261,"e":1},{"t":0.4275,"e":0.4},
      {"t":0.4286,"e":0.4},{"t":0.43,"e":1},{"t":0.4314,"e":0.4},
      {"t":0.433,"e":0.4},{"t":0.4344,"e":1},{"t":0.4358,"e":0.4},
      {"t":0.438,"e":0.4},{"t":0.4394,"e":1},{"t":0.4408,"e":0.4},
      {"t":0.4425,"e":0.4},{"t":0.4439,"e":1},{"t":0.4453,"e":0.4},
      {"t":0.4458,"e":0.4},{"t":0.4472,"e":1},{"t":0.4486,"e":0.4},
      {"t":0.4508,"e":0.4},{"t":0.4522,"e":1},{"t":0.4536,"e":0.4},
      {"t":0.4553,"e":0.4},{"t":0.4567,"e":1},{"t":0.4581,"e":0.4},
      {"t":0.4597,"e":0.4},{"t":0.4611,"e":1},{"t":0.4625,"e":0.4},
      {"t":0.4647,"e":0.4},{"t":0.4661,"e":1},{"t":0.4675,"e":0.4},
      {"t":0.46,"g":0.05},{"t":0.4609,"g":0.08},{"t":0.4628,"g":0.14},{"t":0.4646,"g":0.27},{"t":0.4656,"g":0.36},{"t":0.4661,"g":0.87},
      {"t":0.4668,"g":0.39},{"t":0.4683,"g":0.4},
      {"t":0.4734,"e":0.4,"g":0.4},{"t":0.4748,"e":1,"g":1},{"t":0.4762,"e":0.4,"g":0.4},
      {"t":0.478,"e":0.4,"g":0.4},{"t":0.4794,"e":1,"g":1},{"t":0.4808,"e":0.4,"g":0.4},
      {"t":0.4836,"e":0.4,"g":0.4},{"t":0.485,"e":1,"g":1},{"t":0.4864,"e":0.4,"g":0.4},
      {"t":0.4882,"e":0.4,"g":0.4},{"t":0.4896,"e":1,"g":1},{"t":0.491,"e":0.4,"g":0.4},
      {"t":0.4938,"e":0.4,"g":0.4},{"t":0.4952,"e":1,"g":1},{"t":0.4966,"e":0.4,"g":0.4},
      {"t":0.498,"e":0.4,"g":0.4},{"t":0.4994,"e":1,"g":1},{"t":0.5008,"e":0.4,"g":0.4},
      {"t":0.5025,"e":0.4,"g":0.4},{"t":0.5039,"e":1,"g":1},{"t":0.5053,"e":0.4,"g":0.4},
      {"t":0.5069,"e":0.4,"g":0.4},{"t":0.5083,"e":1,"g":1},{"t":0.5097,"e":0.4,"g":0.4},
      {"t":0.5114,"e":0.4,"g":0.4},{"t":0.5128,"e":1,"g":1},{"t":0.5142,"e":0.4,"g":0.4},
      {"t":0.5158,"e":0.4,"g":0.4},{"t":0.5172,"e":1,"g":1},{"t":0.5186,"e":0.4,"g":0.4},
      {"t":0.5203,"e":0.4,"g":0.4},{"t":0.5217,"e":1,"g":1},{"t":0.5231,"e":0.4,"g":0.4},
      {"t":0.5247,"e":0.4,"g":0.4},{"t":0.5261,"e":1,"g":1},{"t":0.5275,"e":0.4,"g":0.4},
      {"t":0.5292,"e":0.4,"g":0.4},{"t":0.5306,"e":1,"g":1},{"t":0.532,"e":0.4,"g":0.4},
      {"t":0.5336,"e":0.4,"g":0.4},{"t":0.535,"e":1,"g":1},{"t":0.5364,"e":0.4,"g":0.4},
      {"t":0.538,"e":0.4,"g":0.4},{"t":0.5394,"e":1,"g":1},{"t":0.5408,"e":0.4,"g":0.4},
      {"t":0.5425,"e":0.4,"g":0.4},{"t":0.5439,"e":1,"g":1},{"t":0.5453,"e":0.4,"g":0.4},
      {"t":0.5469,"e":0.4,"g":0.4},{"t":0.5483,"e":1,"g":1},{"t":0.5497,"e":0.4,"g":0.4},
      {"t":0.5506,"g":0.38},{"t":0.5517,"g":0.32},{"t":0.5528,"g":0.22},{"t":0.5539,"g":0.13},{"t":0.555,"g":0.07},{"t":0.5561,"g":0.055},
      {"t":0.5578,"g":0.05},
      {"t":0.5514,"e":0.4},{"t":0.5528,"e":1},{"t":0.5542,"e":0.4},
      {"t":0.5558,"e":0.4},{"t":0.5572,"e":1},{"t":0.5586,"e":0.4},
      {"t":0.5597,"e":0.4},{"t":0.5611,"e":1},{"t":0.5625,"e":0.4},
      {"t":0.5642,"e":0.4},{"t":0.5656,"e":1},{"t":0.567,"e":0.4},
      {"t":0.5686,"e":0.4},{"t":0.57,"e":1},{"t":0.5714,"e":0.4},
      {"t":0.5725,"e":0.4},{"t":0.5739,"e":1},{"t":0.5753,"e":0.4},
      {"t":0.5769,"e":0.4},{"t":0.5783,"e":1},{"t":0.5797,"e":0.4},
      {"t":0.5814,"e":0.4},{"t":0.5828,"e":1},{"t":0.5842,"e":0.4},
      {"t":0.5853,"e":0.4},{"t":0.5867,"e":1},{"t":0.5881,"e":0.4},
      {"t":0.5897,"e":0.4},{"t":0.5911,"e":1},{"t":0.5925,"e":0.4},
      {"t":0.5942,"e":0.4},{"t":0.5956,"e":1},{"t":0.597,"e":0.4},
      {"t":0.5986,"e":0.4},{"t":0.6,"e":1},{"t":0.6014,"e":0.4},
      {"t":0.603,"e":0.4},{"t":0.6044,"e":1},{"t":0.6058,"e":0.4},
      {"t":0.6069,"e":0.4},{"t":0.6083,"e":1},{"t":0.6097,"e":0.4},
      {"t":0.6114,"e":0.4},{"t":0.6128,"e":1},{"t":0.6142,"e":0.4},
      {"t":0.6158,"e":0.4},{"t":0.6172,"e":1},{"t":0.6186,"e":0.4},
      {"t":0.6203,"e":0.4},{"t":0.6217,"e":1},{"t":0.6231,"e":0.4},
      {"t":0.625,"e":0.4,"g":0.05}
    ]
  },
  "vconcat": [
    {
      "width": 1125, "height": 144,
      "layer": [
        {"data": {"name": "ab"}, "mark": {"type": "line", "clip": true},
         "encoding": {
           "x": {"field": "t", "type": "quantitative", "scale": {"domain": [0, 0.625], "nice": false, "zero": false}, "axis": {"values": [0, 0.1, 0.2, 0.3, 0.4, 0.5, 0.6], "format": "~g", "title": null}},
           "y": {"field": "a", "type": "quantitative", "scale": {"domain": [-0.66, 0.9], "nice": false, "zero": false}, "axis": {"values": [-0.5, 0, 0.5], "format": "~g", "title": null}}
         }},
        {"data": {"values": [{"lab": "(a)"}]}, "mark": {"type": "text", "align": "left", "baseline": "middle", "dx": 1, "dy": 3},
         "encoding": {
           "x": {"datum": 0.625, "type": "quantitative", "scale": {"domain": [0, 0.625], "nice": false, "zero": false}, "axis": {"orient": "top", "values": [0, 0.1, 0.2, 0.3, 0.4, 0.5, 0.6], "labels": false, "grid": false, "title": null}},
           "y": {"datum": 0, "type": "quantitative", "scale": {"domain": [-0.66, 0.9], "nice": false, "zero": false}, "axis": {"orient": "right", "values": [-0.5, 0, 0.5], "labels": false, "grid": false, "title": null}},
           "text": {"field": "lab"}
         }}
      ],
      "resolve": {"axis": {"x": "independent", "y": "independent"}}
    },
    {
      "width": 1125, "height": 144,
      "layer": [
        {"data": {"name": "ab"}, "mark": {"type": "line", "clip": true},
         "encoding": {
           "x": {"field": "t", "type": "quantitative", "scale": {"domain": [0, 0.625], "nice": false, "zero": false}, "axis": {"values": [0, 0.1, 0.2, 0.3, 0.4, 0.5, 0.6], "format": "~g", "title": null}},
           "y": {"field": "b", "type": "quantitative", "scale": {"domain": [-0.55, 0.72], "nice": false, "zero": false}, "axis": {"values": [-0.5, 0, 0.5], "format": "~g", "title": null}}
         }},
        {"data": {"values": [{"lab": "(b)"}]}, "mark": {"type": "text", "align": "left", "baseline": "middle", "dx": 1, "dy": 1},
         "encoding": {
           "x": {"datum": 0.625, "type": "quantitative", "scale": {"domain": [0, 0.625], "nice": false, "zero": false}, "axis": {"orient": "top", "values": [0, 0.1, 0.2, 0.3, 0.4, 0.5, 0.6], "labels": false, "grid": false, "title": null}},
           "y": {"datum": 0, "type": "quantitative", "scale": {"domain": [-0.55, 0.72], "nice": false, "zero": false}, "axis": {"orient": "right", "values": [-0.5, 0, 0.5], "labels": false, "grid": false, "title": null}},
           "text": {"field": "lab"}
         }}
      ],
      "resolve": {"axis": {"x": "independent", "y": "independent"}}
    },
    {
      "width": 1125, "height": 144,
      "layer": [
        {"data": {"name": "cd"}, "mark": {"type": "line", "clip": true, "strokeWidth": 1.3},
         "encoding": {
           "x": {"field": "t", "type": "quantitative", "scale": {"domain": [0, 0.625], "nice": false, "zero": false}, "axis": {"values": [0, 0.1, 0.2, 0.3, 0.4, 0.5, 0.6], "format": "~g", "title": null}},
           "y": {"field": "c", "type": "quantitative", "scale": {"domain": [-0.25, 0.25], "nice": false, "zero": false}, "axis": {"values": [-0.2, 0, 0.2], "format": "~g", "title": null}}
         }},
        {"data": {"values": [{"lab": "(c)"}]}, "mark": {"type": "text", "align": "left", "baseline": "middle", "dx": 1, "dy": 0},
         "encoding": {
           "x": {"datum": 0.625, "type": "quantitative", "scale": {"domain": [0, 0.625], "nice": false, "zero": false}, "axis": {"orient": "top", "values": [0, 0.1, 0.2, 0.3, 0.4, 0.5, 0.6], "labels": false, "grid": false, "title": null}},
           "y": {"datum": 0, "type": "quantitative", "scale": {"domain": [-0.25, 0.25], "nice": false, "zero": false}, "axis": {"orient": "right", "values": [-0.2, 0, 0.2], "labels": false, "grid": false, "title": null}},
           "text": {"field": "lab"}
         }}
      ],
      "resolve": {"axis": {"x": "independent", "y": "independent"}}
    },
    {
      "width": 1125, "height": 144,
      "layer": [
        {"data": {"name": "cd"}, "mark": {"type": "line", "clip": true, "strokeWidth": 1.3},
         "encoding": {
           "x": {"field": "t", "type": "quantitative", "scale": {"domain": [0, 0.625], "nice": false, "zero": false}, "axis": {"values": [0, 0.1, 0.2, 0.3, 0.4, 0.5, 0.6], "format": "~g", "title": null}},
           "y": {"field": "d", "type": "quantitative", "scale": {"domain": [0, 0.5], "nice": false, "zero": false}, "axis": {"values": [0, 0.5], "format": "~g", "title": "Amplitude", "titleFont": "Liberation Sans", "titleFontSize": 19, "titleX": -47, "titleY": 70, "titleAngle": 270, "titleAlign": "center", "titleBaseline": "top"}}
         }},
        {"data": {"values": [{"lab": "(d)"}]}, "mark": {"type": "text", "align": "left", "baseline": "middle", "dx": 1, "dy": 0},
         "encoding": {
           "x": {"datum": 0.625, "type": "quantitative", "scale": {"domain": [0, 0.625], "nice": false, "zero": false}, "axis": {"orient": "top", "values": [0, 0.1, 0.2, 0.3, 0.4, 0.5, 0.6], "labels": false, "grid": false, "title": null}},
           "y": {"datum": 0.25, "type": "quantitative", "scale": {"domain": [0, 0.5], "nice": false, "zero": false}, "axis": {"orient": "right", "values": [0, 0.5], "labels": false, "grid": false, "title": null}},
           "text": {"field": "lab"}
         }}
      ],
      "resolve": {"axis": {"x": "independent", "y": "independent"}}
    },
    {
      "width": 1125, "height": 144,
      "layer": [
        {"data": {"name": "eg"}, "mark": {"type": "line", "clip": true, "invalid": "filter"},
         "encoding": {
           "x": {"field": "t", "type": "quantitative", "scale": {"domain": [0, 0.625], "nice": false, "zero": false}, "axis": {"values": [0, 0.1, 0.2, 0.3, 0.4, 0.5, 0.6], "format": "~g", "title": null}},
           "y": {"field": "e", "type": "quantitative", "scale": {"domain": [0, 1.1], "nice": false, "zero": false}, "axis": {"values": [0, 0.5, 1], "format": "~g", "title": null}}
         }},
        {"data": {"values": [{"lab": "(e)"}]}, "mark": {"type": "text", "align": "left", "baseline": "middle", "dx": 1, "dy": 0},
         "encoding": {
           "x": {"datum": 0.625, "type": "quantitative", "scale": {"domain": [0, 0.625], "nice": false, "zero": false}, "axis": {"orient": "top", "values": [0, 0.1, 0.2, 0.3, 0.4, 0.5, 0.6], "labels": false, "grid": false, "title": null}},
           "y": {"datum": 0.5, "type": "quantitative", "scale": {"domain": [0, 1.1], "nice": false, "zero": false}, "axis": {"orient": "right", "values": [0, 0.5, 1], "labels": false, "grid": false, "title": null}},
           "text": {"field": "lab"}
         }}
      ],
      "resolve": {"axis": {"x": "independent", "y": "independent"}}
    },
    {
      "width": 1125, "height": 144,
      "layer": [
        {"data": {"name": "f"}, "mark": {"type": "line", "clip": true},
         "encoding": {
           "x": {"field": "t", "type": "quantitative", "scale": {"domain": [0, 0.625], "nice": false, "zero": false}, "axis": {"values": [0, 0.1, 0.2, 0.3, 0.4, 0.5, 0.6], "format": "~g", "title": null}},
           "y": {"field": "f", "type": "quantitative", "scale": {"domain": [0, 1.1], "nice": false, "zero": false}, "axis": {"values": [0, 0.5, 1], "format": "~g", "title": null}}
         }},
        {"data": {"values": [{"lab": "(f)"}]}, "mark": {"type": "text", "align": "left", "baseline": "middle", "dx": 1, "dy": 0},
         "encoding": {
           "x": {"datum": 0.625, "type": "quantitative", "scale": {"domain": [0, 0.625], "nice": false, "zero": false}, "axis": {"orient": "top", "values": [0, 0.1, 0.2, 0.3, 0.4, 0.5, 0.6], "labels": false, "grid": false, "title": null}},
           "y": {"datum": 0.5, "type": "quantitative", "scale": {"domain": [0, 1.1], "nice": false, "zero": false}, "axis": {"orient": "right", "values": [0, 0.5, 1], "labels": false, "grid": false, "title": null}},
           "text": {"field": "lab"}
         }}
      ],
      "resolve": {"axis": {"x": "independent", "y": "independent"}}
    },
    {
      "width": 1125, "height": 144,
      "layer": [
        {"data": {"name": "eg"}, "mark": {"type": "line", "clip": true, "invalid": "filter"},
         "encoding": {
           "x": {"field": "t", "type": "quantitative", "scale": {"domain": [0, 0.625], "nice": false, "zero": false}, "axis": {"values": [0, 0.1, 0.2, 0.3, 0.4, 0.5, 0.6], "format": "~g", "title": "Time(secs)", "titlePadding": 9}},
           "y": {"field": "g", "type": "quantitative", "scale": {"domain": [0, 1.1], "nice": false, "zero": false}, "axis": {"values": [0, 0.5, 1], "format": "~g", "title": null}}
         }},
        {"data": {"values": [{"lab": "(g)"}]}, "mark": {"type": "text", "align": "left", "baseline": "middle", "dx": 1, "dy": 0},
         "encoding": {
           "x": {"datum": 0.625, "type": "quantitative", "scale": {"domain": [0, 0.625], "nice": false, "zero": false}, "axis": {"orient": "top", "values": [0, 0.1, 0.2, 0.3, 0.4, 0.5, 0.6], "labels": false, "grid": false, "title": null}},
           "y": {"datum": 0.5, "type": "quantitative", "scale": {"domain": [0, 1.1], "nice": false, "zero": false}, "axis": {"orient": "right", "values": [0, 0.5, 1], "labels": false, "grid": false, "title": null}},
           "text": {"field": "lab"}
         }}
      ],
      "resolve": {"axis": {"x": "independent", "y": "independent"}}
    }
  ]
}
